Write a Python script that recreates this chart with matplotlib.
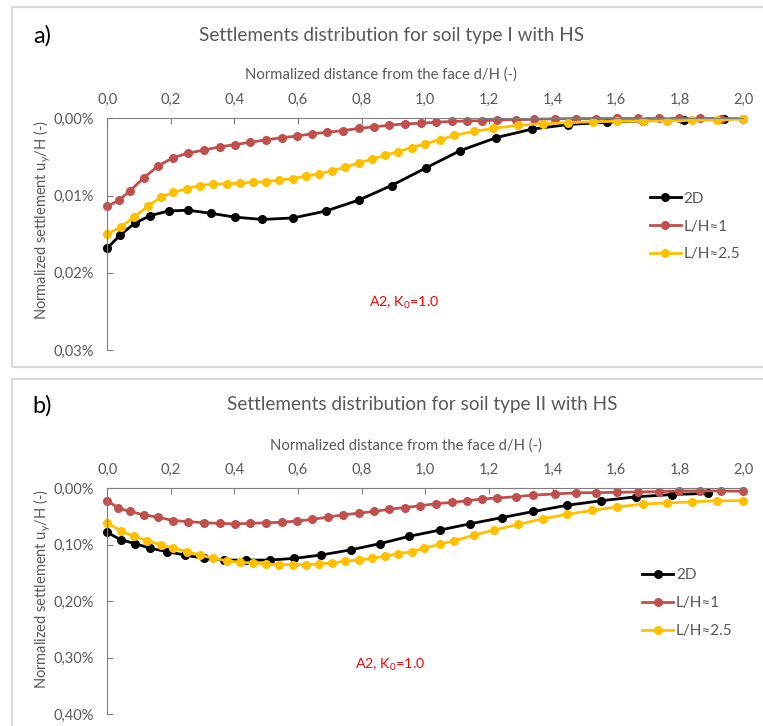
import matplotlib
matplotlib.use("Agg")
import matplotlib.pyplot as plt
from matplotlib.patches import Rectangle
from matplotlib.ticker import FuncFormatter, MultipleLocator

plt.rcParams['font.family'] = ['Lato', 'DejaVu Sans']
plt.rcParams['mathtext.fontset'] = 'custom'
plt.rcParams['mathtext.rm'] = 'Lato'

# ---- data: settlement u_y/H in %, distance d/H ----
# soil type I
x1_2d = [0.0, 0.041, 0.086, 0.135, 0.193, 0.254, 0.325, 0.402, 0.488, 0.585, 0.688,
         0.790, 0.894, 1.003, 1.109, 1.223, 1.335, 1.450, 1.571, 1.686, 1.813, 1.938]
y1_2d = [0.0168, 0.0151, 0.0136, 0.0126, 0.0120, 0.0119, 0.0123, 0.0128, 0.0131, 0.0129,
         0.0120, 0.0106, 0.0087, 0.0064, 0.0042, 0.0025, 0.0014, 0.0008, 0.0005, 0.0003,
         0.0002, 0.0001]
x1_l1 = [0.0, 0.037, 0.071, 0.115, 0.159, 0.206, 0.255, 0.305, 0.353, 0.402, 0.450, 0.498,
         0.548, 0.596, 0.644, 0.692, 0.741, 0.790, 0.838, 0.887, 0.936, 0.986, 1.035, 1.083,
         1.131, 1.178, 1.227, 1.284, 1.341, 1.408, 1.473, 1.538, 1.603, 1.668, 1.734, 1.799,
         1.864, 1.931, 1.998]
y1_l1 = [0.0114, 0.0106, 0.0094, 0.0077, 0.0062, 0.0051, 0.0045, 0.0041, 0.0037, 0.0034,
         0.0031, 0.0028, 0.0025, 0.0023, 0.0020, 0.0018, 0.0016, 0.0013, 0.0011, 0.0009,
         0.0007, 0.00065, 0.0005, 0.0004, 0.00034, 0.0003, 0.00022, 0.00017, 0.00013,
         0.00006, 0.00003, 0.00003, 0.00002, 0.00002, 0.00002, 0.00002, 0.00002, 0.00003,
         0.00004]
x1_l25 = [0.0, 0.042, 0.084, 0.127, 0.169, 0.207, 0.250, 0.291, 0.333, 0.375, 0.416, 0.458,
          0.499, 0.541, 0.583, 0.624, 0.666, 0.707, 0.749, 0.791, 0.831, 0.873, 0.915, 0.957,
          0.999, 1.045, 1.091, 1.154, 1.213, 1.293, 1.370, 1.448, 1.527, 1.603, 1.684, 1.760,
          1.839, 1.916, 1.998]
y1_l25 = [0.0150, 0.0141, 0.0128, 0.0114, 0.0102, 0.0096, 0.0091, 0.0087, 0.0085, 0.0085,
          0.0084, 0.0083, 0.0082, 0.0080, 0.0078, 0.0075, 0.0072, 0.0068, 0.0063, 0.0058,
          0.0053, 0.0048, 0.0043, 0.0038, 0.0033, 0.0028, 0.0022, 0.0017, 0.0013, 0.0009,
          0.0007, 0.00056, 0.00043, 0.00039, 0.00034, 0.00034, 0.00026, 0.00022, 0.00009]

# soil type II
x2_2d = [0.0, 0.042, 0.088, 0.135, 0.187, 0.243, 0.303, 0.366, 0.437, 0.511, 0.588, 0.673,
         0.765, 0.857, 0.949, 1.045, 1.139, 1.240, 1.340, 1.446, 1.553, 1.663, 1.776, 1.890]
y2_2d = [0.078, 0.091, 0.098, 0.106, 0.112, 0.118, 0.124, 0.127, 0.127, 0.127, 0.124,
         0.118, 0.109, 0.098, 0.085, 0.074, 0.063, 0.052, 0.041, 0.030, 0.022, 0.015,
         0.011, 0.009]
x2_l1 = [0.0, 0.035, 0.071, 0.115, 0.159, 0.206, 0.255, 0.305, 0.353, 0.401, 0.450, 0.498,
         0.548, 0.596, 0.644, 0.693, 0.742, 0.791, 0.839, 0.887, 0.936, 0.984, 1.035, 1.083,
         1.131, 1.179, 1.227, 1.284, 1.340, 1.407, 1.473, 1.538, 1.604, 1.669, 1.734, 1.799,
         1.864, 1.931, 1.998]
y2_l1 = [0.022, 0.035, 0.041, 0.047, 0.051, 0.057, 0.059, 0.061, 0.062, 0.063, 0.062,
         0.061, 0.060, 0.058, 0.055, 0.051, 0.047, 0.044, 0.041, 0.037, 0.034, 0.031,
         0.027, 0.025, 0.022, 0.019, 0.017, 0.015, 0.012, 0.010, 0.008, 0.0076, 0.0071,
         0.0065, 0.0059, 0.0047, 0.0047, 0.0047, 0.0053]
x2_l25 = [0.0, 0.042, 0.085, 0.126, 0.169, 0.208, 0.250, 0.292, 0.333, 0.375, 0.416, 0.458,
          0.499, 0.541, 0.583, 0.624, 0.666, 0.707, 0.749, 0.791, 0.832, 0.874, 0.915, 0.957,
          0.997, 1.045, 1.091, 1.152, 1.215, 1.292, 1.369, 1.447, 1.525, 1.603, 1.683, 1.759,
          1.838, 1.916, 1.998]
y2_l25 = [0.061, 0.075, 0.085, 0.093, 0.100, 0.106, 0.112, 0.118, 0.124, 0.128, 0.131,
          0.132, 0.134, 0.135, 0.135, 0.135, 0.134, 0.132, 0.129, 0.127, 0.124, 0.120,
          0.116, 0.112, 0.106, 0.099, 0.093, 0.083, 0.074, 0.064, 0.054, 0.046, 0.039,
          0.033, 0.028, 0.026, 0.024, 0.022, 0.022]

labels = ['2D', 'L/H\u22481', 'L/H\u22482.5']
colors = ['black', '#C0504D', '#FFC000']

panels = [
    dict(tag='a)', title='Settlements distribution for soil type I with HS',
         series=[(x1_2d, y1_2d), (x1_l1, y1_l1), (x1_l25, y1_l25)],
         ymax=0.03, ystep=0.01, rect=[0.1406, 0.518, 0.8336, 0.319],
         box=[0.016, 0.495, 1.2, 0.496], leg=(0.842, 0.7466), note=(0.467, 0.205),
         title_xy=(0.513, 0.951), tag_y=0.951, xlab_x=0.430, ylab_y=0.561),
    dict(tag='b)', title='Settlements distribution for soil type II with HS',
         series=[(x2_2d, y2_2d), (x2_l1, y2_l1), (x2_l25, y2_l25)],
         ymax=0.4, ystep=0.1, rect=[0.1406, 0.0161, 0.8336, 0.3113],
         box=[0.016, -0.1, 1.2, 0.578], leg=(0.832, 0.228), note=(0.445, 0.217),
         title_xy=(0.554, 0.443), tag_y=0.441, xlab_x=0.470, ylab_y=0.554),
]

gray = '#595959'
fig = plt.figure(figsize=(7.63, 7.26), dpi=100)

for p in panels:
    bx = p['box']
    fig.patches.append(Rectangle((bx[0], bx[1]), bx[2], bx[3], transform=fig.transFigure,
                                 fill=False, edgecolor='#d9d9d9', lw=1.5, zorder=0))
    ax = fig.add_axes(p['rect'])
    for (xs, ys), lab, c in zip(p['series'], labels, colors):
        ax.plot(xs, ys, '-o', color=c, lw=2, ms=5.5, label=lab, clip_on=False)

    ax.set_xlim(0, 2.0)
    ax.set_ylim(p['ymax'], 0)
    ax.xaxis.set_major_locator(MultipleLocator(0.2))
    ax.yaxis.set_major_locator(MultipleLocator(p['ystep']))
    ax.xaxis.set_major_formatter(FuncFormatter(lambda v, _: f"{v:.1f}".replace('.', ',')))
    ax.yaxis.set_major_formatter(FuncFormatter(lambda v, _: f"{v:.2f}%".replace('.', ',')))
    ax.xaxis.tick_top()
    ax.xaxis.set_label_position('top')
    ax.tick_params(direction='in', length=4, color='#7f7f7f', labelcolor=gray, labelsize=10.5)
    ax.tick_params(axis='x', pad=8)
    ax.tick_params(axis='y', pad=10)
    for s in ['right', 'bottom']:
        ax.spines[s].set_visible(False)
    for s in ['left', 'top']:
        ax.spines[s].set_color('#7f7f7f')
    ax.set_xlabel('Normalized distance from the face d/H (-)', color=gray, fontsize=10.7)
    ax.xaxis.set_label_coords(p['xlab_x'], 1.172)
    ax.set_ylabel(r'Normalized settlement u$_\mathregular{y}$/H (-)', color=gray, fontsize=10.5)
    ax.yaxis.set_label_coords(-0.086, p['ylab_y'])
    fig.text(p['title_xy'][0], p['title_xy'][1], p['title'], color=gray, fontsize=13.6,
             ha='center', va='center')
    fig.text(0.043, p['tag_y'], p['tag'], fontsize=17, color='black', ha='left', va='center')
    ax.text(p['note'][0], p['note'][1], r'A2, K$_\mathregular{0}$=1.0', transform=ax.transAxes,
            color='#FF0000', fontsize=10.3, ha='center', va='center')
    ax.legend(loc='upper left', bbox_to_anchor=p['leg'], bbox_transform=fig.transFigure,
              frameon=False, fontsize=11, labelcolor=gray, handlelength=2.0,
              handletextpad=0.2, labelspacing=0.91, borderpad=0)

fig.savefig('out.png', dpi=100)
